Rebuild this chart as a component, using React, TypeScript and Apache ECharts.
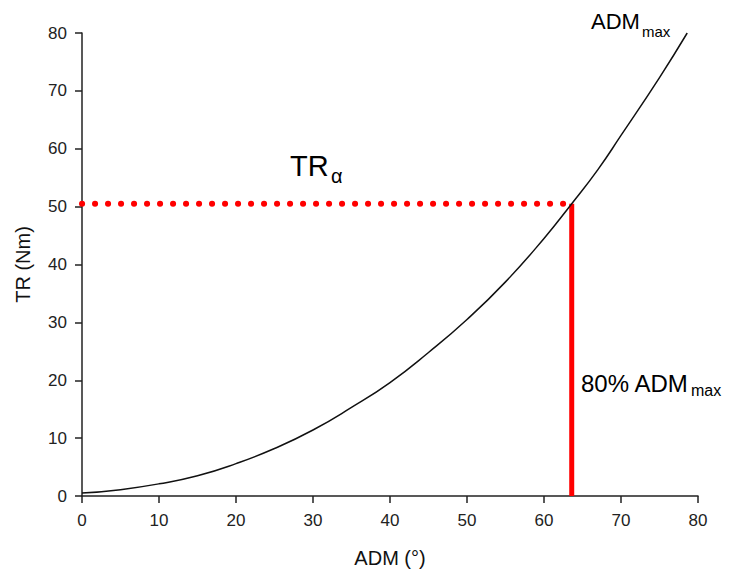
import React, { useEffect, useRef } from "react";
import * as echarts from "echarts";

// ---- data ----
const curveX = [0, 5, 10, 15, 20, 25, 30, 35, 40, 45, 50, 55, 60, 63.6, 67, 70, 75, 78.6];
const curveY = [0.5, 1.1, 2.1, 3.5, 5.6, 8.2, 11.4, 15.3, 19.6, 24.8, 30.5, 37.0, 44.5, 50.5, 56.4, 62.3, 72.3, 80];
const admAt80 = 63.6; // 80% ADMmax
const trAlpha = 50.5; // TR alpha
const xTicks = [0, 10, 20, 30, 40, 50, 60, 70, 80];
const yTicks = [0, 10, 20, 30, 40, 50, 60, 70, 80];

const FONT = "Liberation Sans, Arial, sans-serif";

export default function App() {
  const ref = useRef<HTMLDivElement>(null);

  useEffect(() => {
    if (!ref.current) return;
    const chart = echarts.init(ref.current, undefined, { renderer: "svg" });

    const curve = curveX.map((x, i) => [x, curveY[i]]);

    const axisCommon = {
      type: "value" as const,
      interval: 10,
      axisLine: { show: true, lineStyle: { color: "#222", width: 1.5 } },
      axisTick: { show: true, inside: false, length: 7, lineStyle: { color: "#222", width: 1.5 } },
      splitLine: { show: false },
      nameLocation: "middle" as const,
    };

    chart.setOption({
      animation: false,
      backgroundColor: "#fff",
      grid: { left: 82, right: 33, top: 33, bottom: 76, containLabel: false },
      xAxis: {
        ...axisCommon,
        min: xTicks[0],
        max: xTicks[xTicks.length - 1],
        name: "ADM (°)",
        nameGap: 52,
        nameTextStyle: { fontFamily: FONT, fontSize: 20, color: "#111" },
        axisLabel: { fontFamily: FONT, fontSize: 17, color: "#222", margin: 16 },
      },
      yAxis: {
        ...axisCommon,
        min: yTicks[0],
        max: yTicks[yTicks.length - 1],
        name: "TR (Nm)",
        nameGap: 49,
        nameTextStyle: { fontFamily: FONT, fontSize: 20, color: "#111" },
        axisLabel: { fontFamily: FONT, fontSize: 17, color: "#222", margin: 15 },
      },
      series: [
        {
          type: "line",
          data: [[0, trAlpha], [admAt80, trAlpha]],
          showSymbol: false,
          lineStyle: { color: "#ff0000", width: 6, type: [0.1, 12.9], cap: "round" },
          silent: true,
        },
        {
          type: "line",
          data: [[admAt80, 0], [admAt80, trAlpha]],
          showSymbol: false,
          lineStyle: { color: "#ff0000", width: 5 },
          silent: true,
        },
        {
          type: "line",
          data: curve,
          smooth: 0.5,
          showSymbol: false,
          lineStyle: { color: "#111", width: 1.5 },
          silent: true,
        },
      ],
      graphic: [
        { type: "text", x: 290, y: 165.6, style: { text: "TR", font: `29px ${FONT}`, fill: "#000", verticalAlign: "middle", align: "left" } },
        { type: "text", x: 331, y: 176.4, style: { text: "α", font: `20px ${FONT}`, fill: "#000", verticalAlign: "middle", align: "left" } },
        { type: "text", x: 591, y: 21.7, style: { text: "ADM", font: `22px ${FONT}`, fill: "#000", verticalAlign: "middle", align: "left" } },
        { type: "text", x: 642, y: 31.5, style: { text: "max", font: `15px ${FONT}`, fill: "#000", verticalAlign: "middle", align: "left" } },
        { type: "text", x: 581, y: 383.4, style: { text: "80% ADM", font: `24px ${FONT}`, fill: "#000", verticalAlign: "middle", align: "left" } },
        { type: "text", x: 691, y: 390.6, style: { text: "max", font: `16px ${FONT}`, fill: "#000", verticalAlign: "middle", align: "left" } },
      ],
    });

    return () => chart.dispose();
  }, []);

  return (
    <div
      ref={ref}
      style={{ position: "fixed", left: 0, top: 0, width: 731, height: 573, background: "#fff" }}
    />
  );
}
